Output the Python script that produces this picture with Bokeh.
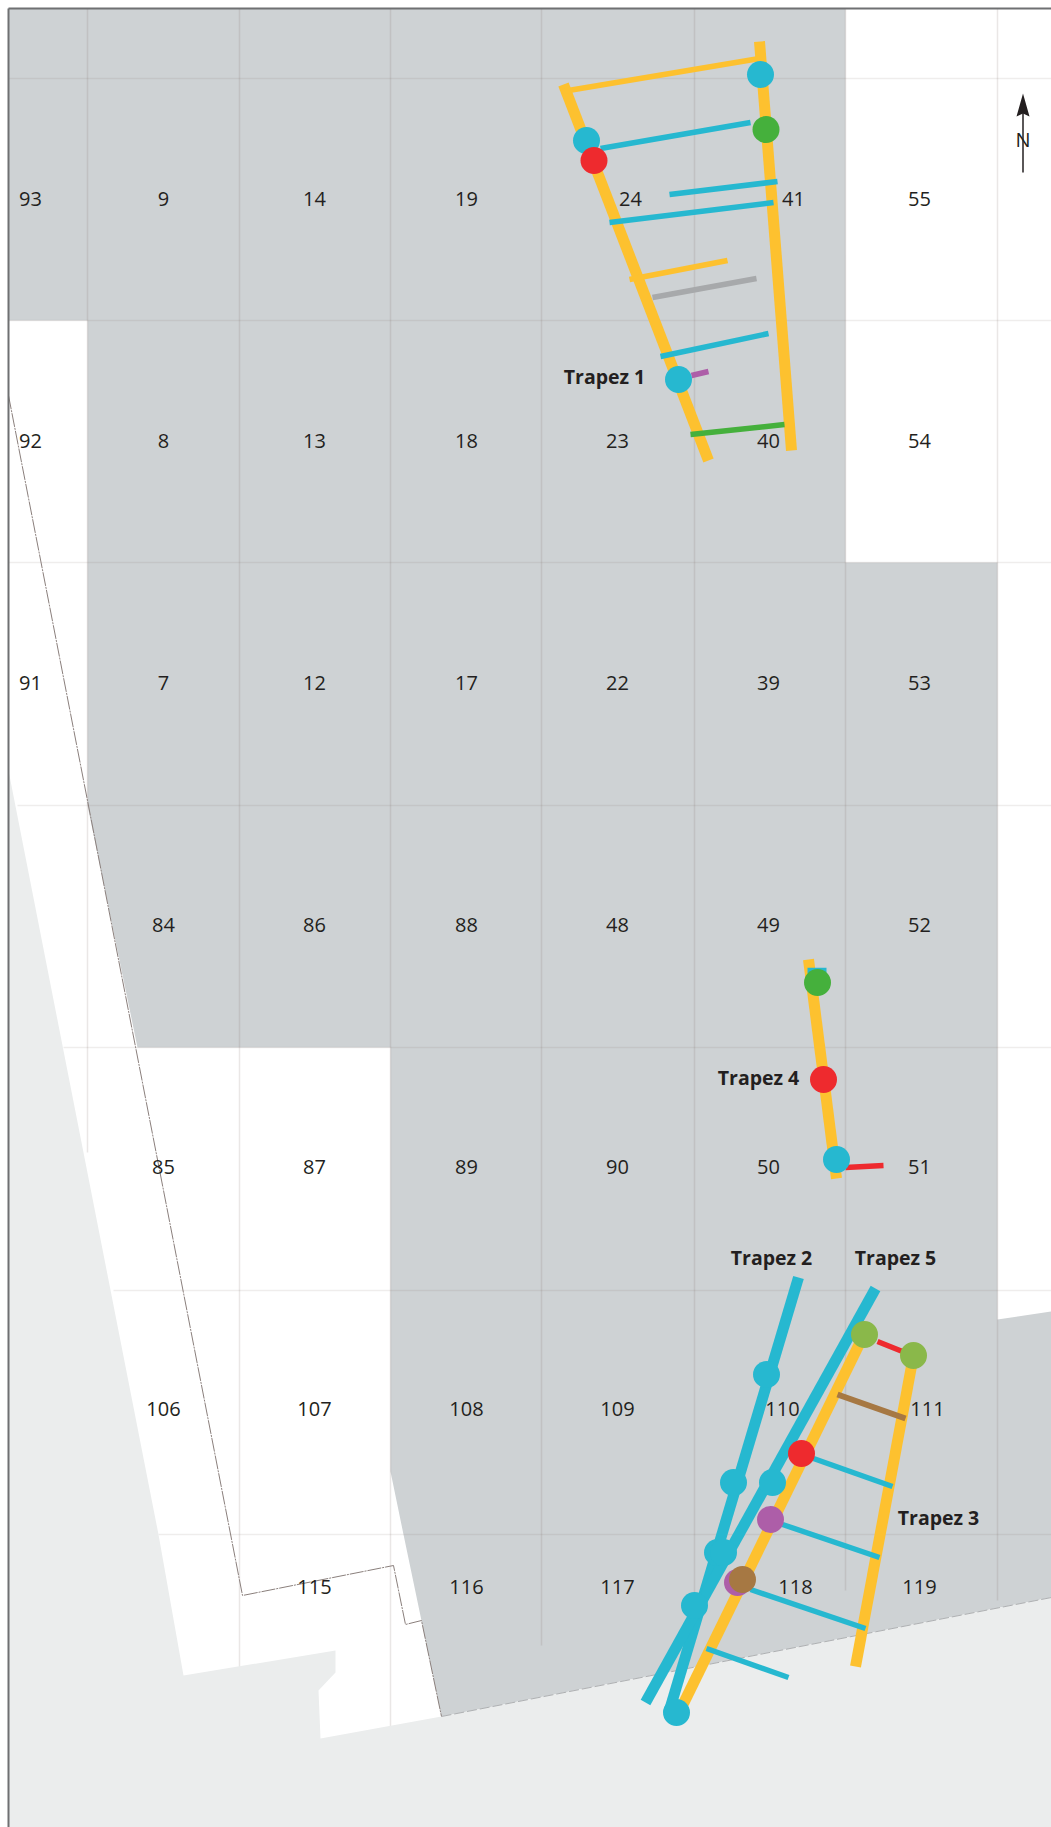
from bokeh.plotting import figure
from bokeh.models import Range1d
from bokeh.core.properties import value
from bokeh.embed import file_html
from bokeh.resources import INLINE

# Map coordinates
grid_x = [87, 239, 390, 541, 694, 845, 997]
grid_x_end = [1152, 1670, 1727, 1645, 1600, 1590, 1600]
grid_y = [78, 320, 562, 805, 1047, 1290, 1534]
grid_y_start = [8, 8, 8, 17, 63, 113, 158]

block_x = [8, 845, 845, 997, 997, 1051, 1051, 441, 403, 390, 390, 137, 87, 87, 8]
block_y = [8, 8, 562, 562, 1319, 1311, 1597, 1716, 1534, 1471, 1047, 1047, 805, 320, 320]

ground_x = [8, 158, 183, 335, 335, 318, 320, 441, 1051, 1051, 8]
ground_y = [770, 1534, 1675, 1650, 1672, 1690, 1738, 1716, 1597, 1827, 1827]

boundary_x = [8, 242, 393, 405, 421, 441]
boundary_y = [395, 1595, 1565, 1624, 1620, 1716]
shore_x = [441, 1051]
shore_y = [1716, 1597]

cell_labels = ["93", "9", "14", "19", "24", "41", "55",
               "92", "8", "13", "18", "23", "40", "54",
               "91", "7", "12", "17", "22", "39", "53",
               "84", "86", "88", "48", "49", "52",
               "85", "87", "89", "90", "50", "51",
               "106", "107", "108", "109", "110", "111",
               "115", "116", "117", "118", "119"]
cell_x = [30, 163, 314, 466, 630, 793, 919,
          30, 163, 314, 466, 617, 768, 919,
          30, 163, 314, 466, 617, 768, 919,
          163, 314, 466, 617, 768, 919,
          163, 314, 466, 617, 768, 919,
          163, 314, 466, 617, 782, 927,
          314, 466, 617, 795, 919]
cell_y = [198] * 7 + [440] * 7 + [682] * 7 + [924] * 6 + [1166] * 6 + [1408] * 6 + [1586] * 5

trapez_names = ["Trapez 1", "Trapez 2", "Trapez 5", "Trapez 3", "Trapez 4"]
trapez_x = [604, 771, 895, 938, 758]
trapez_y = [376, 1257, 1257, 1517, 1077]

# Thick rails (x pair, y pair)
rail_orange_x = [[563, 708], [759, 791], [808, 836], [863, 683], [913, 855]]
rail_orange_y = [[84, 460], [41, 450], [959, 1178], [1335, 1703], [1355, 1666]]
rail_cyan_x = [[798, 668], [875, 645]]
rail_cyan_y = [[1277, 1713], [1288, 1702]]

# Thin cross members
bar_orange_x = [[562, 759], [629, 727]]
bar_orange_y = [[91, 58], [279, 260]]
bar_cyan_x = [[600, 750], [669, 777], [609, 773], [660, 768], [807, 826],
              [813, 892], [782, 879], [750, 865], [706, 788]]
bar_cyan_y = [[148, 122], [194, 181], [222, 202], [356, 333], [970, 970],
              [1458, 1486], [1524, 1557], [1589, 1628], [1648, 1677]]
bar_gray_x = [[652, 756]]
bar_gray_y = [[297, 278]]
bar_purple_x = [[691, 708]]
bar_purple_y = [[375, 371]]
bar_green_x = [[690, 784]]
bar_green_y = [[434, 424]]
bar_red_x = [[845, 883], [877, 902]]
bar_red_y = [[1167, 1165], [1341, 1351]]
bar_brown_x = [[837, 905]]
bar_brown_y = [[1394, 1418]]

# Stations
dot_cyan_x = [760, 586, 678, 836, 766, 733, 717, 694, 772, 723, 676]
dot_cyan_y = [74, 140, 379, 1159, 1374, 1482, 1552, 1605, 1482, 1552, 1712]
dot_red_x = [593.5, 823, 801]
dot_red_y = [160, 1079, 1453]
dot_green_x = [765.5, 817]
dot_green_y = [129, 982]
dot_olive_x = [864, 913]
dot_olive_y = [1334, 1355]
dot_purple_x = [770, 737]
dot_purple_y = [1519, 1582]
dot_brown_x = [742]
dot_brown_y = [1579]

north_x = [1022.5, 1022.5]
north_y = [112, 172]
north_head_x = [1022.5, 1029, 1022.5, 1016]
north_head_y = [93, 116, 113, 116]

p = figure(width=1051, height=1827, output_backend="svg", toolbar_location=None,
           x_range=Range1d(0, 1051), y_range=Range1d(1827, 0),
           x_axis_type=None, y_axis_type=None, min_border=0,
           background_fill_color="white", border_fill_color="white")
p.grid.visible = False
p.outline_line_color = None

p.patch(block_x, block_y, fill_color="#ced2d4", line_color=None)

gl = "#7a6a66"
p.segment(x0=grid_x, y0=[8] * 7, x1=grid_x, y1=grid_x_end, line_color=gl, line_alpha=0.16, line_width=1.5)
p.segment(x0=grid_y_start, y0=grid_y, x1=[1051] * 7, y1=grid_y, line_color=gl, line_alpha=0.12, line_width=1.5)

p.patch(ground_x, ground_y, fill_color="#ebeded", line_color=None)

p.line(boundary_x, boundary_y, line_color="#8a7f7c", line_width=1, line_dash="14 1 2 1")
p.line(shore_x, shore_y, line_color="#aeb0b2", line_width=1, line_dash="10 3")

p.multi_line(rail_orange_x, rail_orange_y, line_color="#fdc12f", line_width=11)
p.multi_line(rail_cyan_x, rail_cyan_y, line_color="#26b8d0", line_width=11)

thin = 5.5
p.multi_line(bar_orange_x, bar_orange_y, line_color="#fdc12f", line_width=thin)
p.multi_line(bar_cyan_x, bar_cyan_y, line_color="#26b8d0", line_width=thin)
p.multi_line(bar_gray_x, bar_gray_y, line_color="#a7a9ab", line_width=thin)
p.multi_line(bar_purple_x, bar_purple_y, line_color="#ad5ea8", line_width=thin)
p.multi_line(bar_green_x, bar_green_y, line_color="#45b03c", line_width=thin)
p.multi_line(bar_red_x, bar_red_y, line_color="#ee2a2e", line_width=thin)
p.multi_line(bar_brown_x, bar_brown_y, line_color="#a67843", line_width=thin + 0.5)

d = 27
for xs, ys, c in [(dot_cyan_x, dot_cyan_y, "#26b8d0"), (dot_red_x, dot_red_y, "#ee2a2e"),
                  (dot_green_x, dot_green_y, "#45b03c"), (dot_olive_x, dot_olive_y, "#8ab84a"),
                  (dot_purple_x, dot_purple_y, "#ad5ea8"), (dot_brown_x, dot_brown_y, "#a67843")]:
    p.scatter(xs, ys, size=d, fill_color=c, line_color=None)

# north arrow
p.line(north_x, north_y, line_color="#231f20", line_width=1.5)
p.patch(north_head_x, north_head_y, fill_color="#231f20", line_color=None)
p.text([1022.5], [139], text=["N"], text_align="center", text_baseline="middle",
       text_font=value("Open Sans"), text_font_size="20px", text_color="#231f20")

p.text(cell_x, cell_y, text=cell_labels, text_align="center", text_baseline="middle",
       text_font=value("Open Sans"), text_font_size="20px", text_color="#231f20")
p.text(trapez_x, trapez_y, text=trapez_names, text_align="center", text_baseline="middle",
       text_font=value("Open Sans"), text_font_style="bold", text_font_size="19.5px", text_color="#231f20")

# frame
p.segment(x0=[8, 8], y0=[8, 8], x1=[8, 1051], y1=[1827, 8], line_color="#6f7072", line_width=2)

open("out.html", "w").write(file_html(p, INLINE))
